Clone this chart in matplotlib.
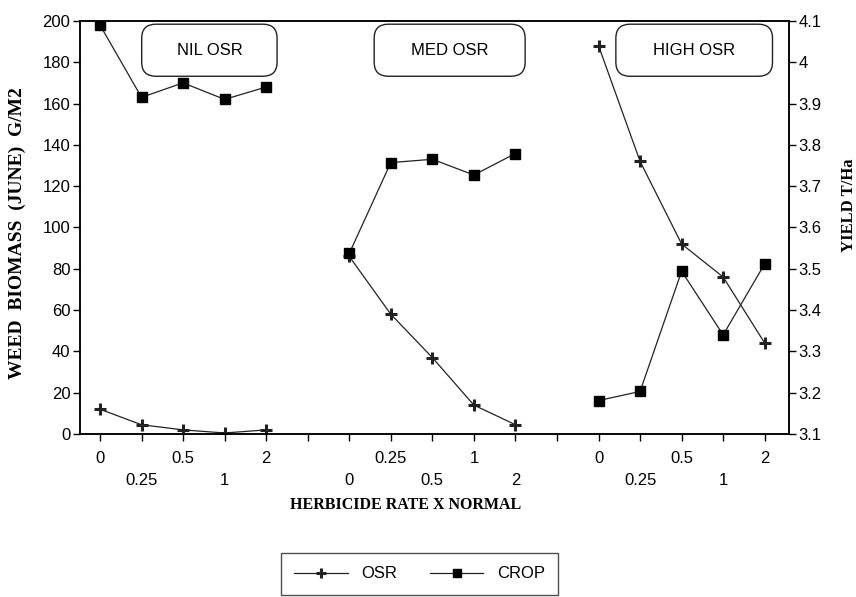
import matplotlib.pyplot as plt
from matplotlib.patches import FancyBboxPatch
import numpy as np

# Herbicide rates (x normal) and OSR density groups
rates = ["0", "0.25", "0.5", "1", "2"]
groups = ["NIL OSR", "MED OSR", "HIGH OSR"]
group_start = [0, 6, 12]

# Weed biomass (June) g/m2 -- OSR volunteers
osr_nil = [12, 4.5, 2, 0.5, 2]
osr_med = [86, 58, 37, 14, 4.5]
osr_high = [188, 132, 92, 76, 44]

# Crop yield t/ha
crop_nil = [4.09, 3.915, 3.95, 3.91, 3.94]
crop_med = [3.537, 3.757, 3.765, 3.727, 3.779]
crop_high = [3.181, 3.203, 3.494, 3.34, 3.512]

osr = [osr_nil, osr_med, osr_high]
crop = [crop_nil, crop_med, crop_high]

fig = plt.figure(figsize=(8.56, 5.97), dpi=100)
ax = fig.add_axes([0.0935, 0.273, 0.828, 0.692])
ax2 = ax.twinx()

line_kw = dict(color='#222222', lw=0.9)
for i, start in enumerate(group_start):
    xs = np.arange(start, start + len(rates))
    h1, = ax.plot(xs, osr[i], marker='+', ms=9, mew=2.2, **line_kw)
    h2, = ax2.plot(xs, crop[i], marker='s', ms=7, mfc='black', mec='black', **line_kw)

# tick labels staggered on two rows
ax.set_xticks(np.arange(0, 17), [""] * 17)
k = 0
for start in group_start:
    for j, r in enumerate(rates):
        ax.text(start + j, -0.04 if k % 2 == 0 else -0.095, r,
                transform=ax.get_xaxis_transform(), ha='center', va='top',
                fontsize=12, family='Liberation Sans')
        k += 1

ax.set_xlim(-0.48, 16.58)
ax.set_ylim(0, 200)
ax.set_yticks(np.arange(0, 201, 20))
ax2.set_ylim(3.1, 4.1)
yt = np.round(np.arange(3.1, 4.11, 0.1), 1)
ax2.set_yticks(yt, [f"{v:g}" for v in yt])

for a in (ax, ax2):
    a.tick_params(labelsize=12, length=5, width=1, pad=2)
    for lab in a.get_yticklabels():
        lab.set_family('Liberation Sans')
    for s in a.spines.values():
        s.set_linewidth(1.1)

ax.set_ylabel("WEED  BIOMASS  (JUNE)  G/M2", family='Liberation Serif',
              fontweight='bold', fontsize=14)
ax.yaxis.set_label_coords(-0.076, 0.487)
ax2.set_ylabel("YIELD T/Ha", family='Liberation Serif', fontweight='bold',
               fontsize=12, rotation=90)
ax2.yaxis.set_label_coords(1.074, 0.554)
ax.text(0.459, -0.172, "HERBICIDE RATE X NORMAL", transform=ax.transAxes,
        ha='center', va='center', family='Liberation Serif', fontweight='bold',
        fontsize=11.5)

# group boxes
boxes = [(0.087, 0.278), (0.415, 0.628), (0.756, 0.977)]
for name, (x0, x1) in zip(groups, boxes):
    p = FancyBboxPatch((x0, 0.866), x1 - x0, 0.126, transform=ax.transAxes,
                       boxstyle="round,pad=0,rounding_size=0.02",
                       fc='white', ec='#222222', lw=1, zorder=5,
                       mutation_aspect=1.7)
    ax2.add_patch(p)
    ax2.text((x0 + x1) / 2, 0.929, name, transform=ax.transAxes, ha='center',
             va='center', fontsize=12, family='Liberation Sans', zorder=6)

leg = fig.legend([h1, h2], ["OSR", "CROP"], loc='upper center', ncol=2,
                 bbox_to_anchor=(0.49, 0.0737), borderaxespad=0, frameon=True,
                 fancybox=False, edgecolor='#222222',
                 prop={'family': 'Liberation Sans', 'size': 12},
                 handlelength=3.2, columnspacing=2.0, borderpad=0.8,
                 markerscale=0.8)
leg.get_frame().set_linewidth(1)

fig.savefig("out.png", dpi=100)
